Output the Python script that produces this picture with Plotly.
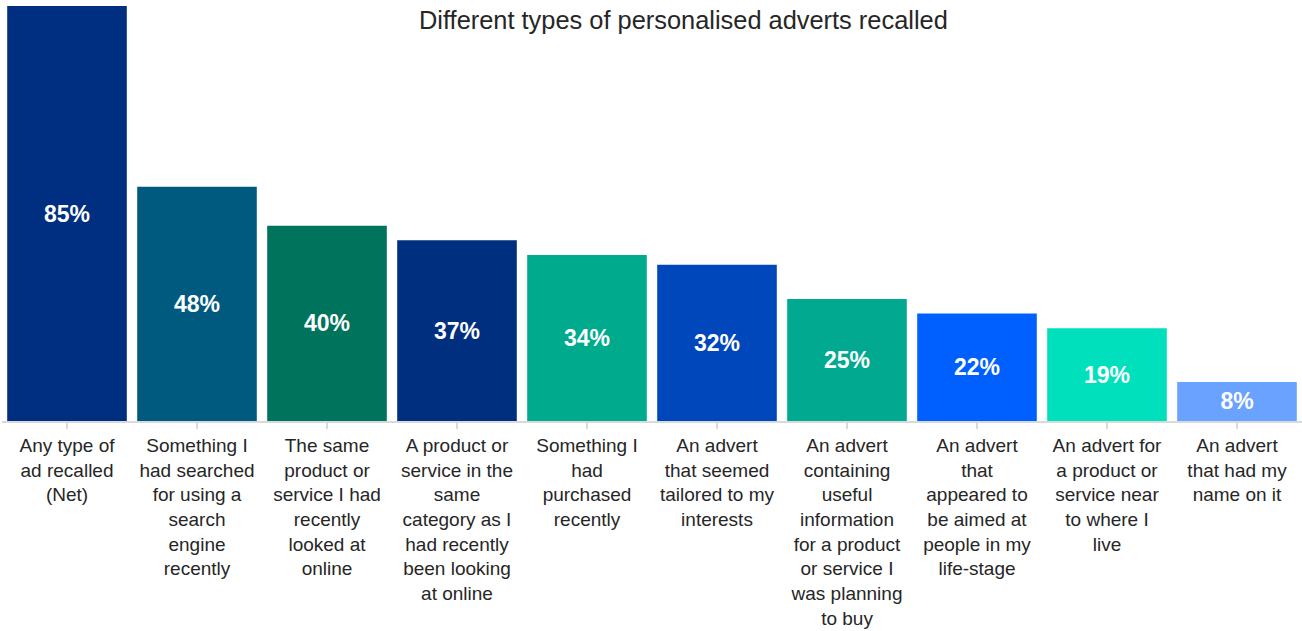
import plotly.graph_objects as go

categories = [
    "Any type of<br>ad recalled<br>(Net)",
    "Something I<br>had searched<br>for using a<br>search<br>engine<br>recently",
    "The same<br>product or<br>service I had<br>recently<br>looked at<br>online",
    "A product or<br>service in the<br>same<br>category as I<br>had recently<br>been looking<br>at online",
    "Something I<br>had<br>purchased<br>recently",
    "An advert<br>that seemed<br>tailored to my<br>interests",
    "An advert<br>containing<br>useful<br>information<br>for a product<br>or service I<br>was planning<br>to buy",
    "An advert<br>that<br>appeared to<br>be aimed at<br>people in my<br>life-stage",
    "An advert for<br>a product or<br>service near<br>to where I<br>live",
    "An advert<br>that had my<br>name on it",
]
values = [85, 48, 40, 37, 34, 32, 25, 22, 19, 8]
labels = [f"{v}%" for v in values]
colors = ["#002E80", "#005A80", "#00735C", "#002F80", "#00AA8C",
          "#0047BB", "#00A98F", "#0060FF", "#00E0BC", "#6AA2FF"]
title_text = "Different types of personalised adverts recalled"

fig = go.Figure(go.Bar(
    x=list(range(len(values))),
    y=values,
    marker=dict(color=colors, line=dict(width=0)),
    text=labels,
    textposition="inside",
    insidetextanchor="middle",
    textangle=0,
    textfont=dict(family="Liberation Sans, Arial", size=23, color="white", weight="bold"),
    cliponaxis=False,
    hoverinfo="skip",
))

fig.update_layout(
    width=1302, height=631,
    margin=dict(l=2, r=0, t=6, b=210, autoexpand=False),
    paper_bgcolor="white", plot_bgcolor="white",
    bargap=0.08,
    showlegend=False,
    uniformtext=dict(mode=False),
    annotations=[dict(
        text=title_text,
        x=0.5242, xref="paper", xanchor="center",
        y=1 - 14 / 415, yref="paper", yanchor="middle",
        showarrow=False,
        font=dict(family="Liberation Sans, Arial", size=25.4, color="#262626"),
    )],
)

fig.update_xaxes(
    tickmode="array",
    tickvals=list(range(len(values))),
    ticktext=categories,
    tickangle=0,
    tickson="boundaries",
    ticks="outside",
    ticklen=6,
    tickcolor="#D9D9D9",
    tickwidth=1.5,
    showline=True,
    linecolor="#D9D9D9",
    linewidth=2,
    showgrid=False,
    zeroline=False,
    automargin=False,
    tickfont=dict(family="Liberation Sans, Arial", size=19, color="#262626"),
    range=[-0.5, 9.5],
)
fig.update_yaxes(
    range=[0, 85],
    visible=False,
    showgrid=False,
    zeroline=False,
    automargin=False,
)

fig.write_html(
    "out.html",
    config={"displayModeBar": False},
    post_script="document.body.style.margin='0';document.body.style.overflow='hidden';",
)
